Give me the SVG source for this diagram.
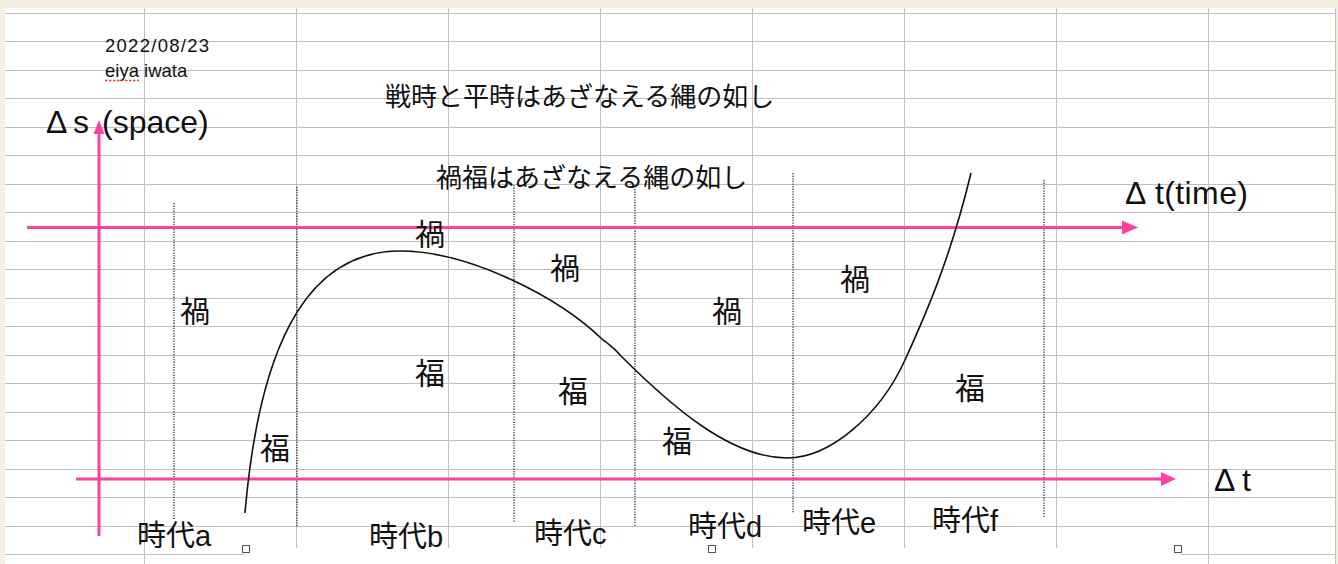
<svg xmlns="http://www.w3.org/2000/svg" width="1338" height="564" viewBox="0 0 1338 564">
<defs>
<style>
.grid{stroke:#c0c0c0;stroke-width:1;fill:none}
.axis{stroke:#ff40a0;stroke-width:3;fill:none}
.head{fill:#ff40a0}
.dot{stroke:#222;stroke-width:1.2;stroke-dasharray:1.3 1.3;fill:none}
.curve{stroke:#111;stroke-width:1.6;fill:none}
.t{font-family:"Liberation Sans","Noto Sans CJK JP",sans-serif;fill:#111}
.j{font-family:"Noto Sans CJK JP","Liberation Sans",sans-serif;fill:#111}
.k{font-size:30px;text-anchor:middle}
.era{font-size:29px}
.handle{fill:#fff;stroke:#555;stroke-width:1}
</style>
</defs>
<rect x="0" y="0" width="1338" height="564" fill="#f5efe1"/>
<rect x="5" y="8" width="1330" height="556" fill="#ffffff"/>
<g id="grid" class="grid">
<line x1="5" y1="13.5" x2="1335" y2="13.5"/>
<line x1="5" y1="41.5" x2="1335" y2="41.5"/>
<line x1="5" y1="70.5" x2="1335" y2="70.5"/>
<line x1="5" y1="98.5" x2="1335" y2="98.5"/>
<line x1="5" y1="127.5" x2="1335" y2="127.5"/>
<line x1="5" y1="155.5" x2="1335" y2="155.5"/>
<line x1="5" y1="184.5" x2="1335" y2="184.5"/>
<line x1="5" y1="212.5" x2="1335" y2="212.5"/>
<line x1="5" y1="241.5" x2="1335" y2="241.5"/>
<line x1="5" y1="269.5" x2="1335" y2="269.5"/>
<line x1="5" y1="298.5" x2="1335" y2="298.5"/>
<line x1="5" y1="326.5" x2="1335" y2="326.5"/>
<line x1="5" y1="355.5" x2="1335" y2="355.5"/>
<line x1="5" y1="383.5" x2="1335" y2="383.5"/>
<line x1="5" y1="412.5" x2="1335" y2="412.5"/>
<line x1="5" y1="440.5" x2="1335" y2="440.5"/>
<line x1="5" y1="469.5" x2="1335" y2="469.5"/>
<line x1="5" y1="497.5" x2="1335" y2="497.5"/>
<line x1="5" y1="526.5" x2="1335" y2="526.5"/>
<line x1="5" y1="554.5" x2="245" y2="554.5"/>
<line x1="1180" y1="554.5" x2="1335" y2="554.5"/>
<line x1="144.5" y1="8" x2="144.5" y2="564"/>
<line x1="296.5" y1="8" x2="296.5" y2="548"/>
<line x1="448.5" y1="8" x2="448.5" y2="548"/>
<line x1="600.5" y1="8" x2="600.5" y2="548"/>
<line x1="752.5" y1="8" x2="752.5" y2="548"/>
<line x1="904.5" y1="8" x2="904.5" y2="548"/>
<line x1="1056.5" y1="8" x2="1056.5" y2="548"/>
<line x1="1208.5" y1="8" x2="1208.5" y2="564"/>
<line x1="1335.5" y1="8" x2="1335.5" y2="564"/>
</g>
<g id="connectors">
<line class="dot" x1="174" y1="203" x2="174" y2="520"/>
<line class="dot" x1="297" y1="187" x2="297" y2="527"/>
<line class="dot" x1="514" y1="185" x2="514" y2="522"/>
<line class="dot" x1="635" y1="189" x2="635" y2="527"/>
<line class="dot" x1="793" y1="173" x2="793" y2="513"/>
<line class="dot" x1="1044" y1="180" x2="1044" y2="517"/>
<line class="axis" x1="99" y1="536" x2="99" y2="132"/>
<polygon class="head" points="99,120 93.5,134 104.5,134"/>
<line class="axis" x1="27" y1="227.5" x2="1124" y2="227.5"/>
<polygon class="head" points="1138,227.5 1122,220.5 1122,234.5"/>
<line class="axis" x1="76" y1="479" x2="1163" y2="479"/>
<polygon class="head" points="1176,479 1161,472 1161,486"/>
<path class="curve" d="M245,513 C258,360 300,251 400,251 C470,251 560,298 603,340 L606,342 C612,347 616,350 620,355 C670,405 730,458 787,458 C830,458 880,415 905,360 C925,316 950,260 971,173"/>
</g>
<g id="handles">
<rect class="handle" x="242.5" y="545.5" width="7" height="7"/>
<rect class="handle" x="708.5" y="545.5" width="7" height="7"/>
<rect class="handle" x="1174.5" y="545.5" width="7" height="7"/>
</g>
<g id="date"><text class="t" x="105" y="52" font-size="18.5" textLength="104">2022/08/23</text></g>
<g id="author"><text class="t" x="105" y="77" font-size="18.5">eiya iwata</text>
<line x1="105" y1="80.5" x2="139" y2="80.5" stroke="#e8403a" stroke-width="1.3" stroke-dasharray="2.5 1.5"/></g>
<g id="title1"><text class="j" x="385" y="106" font-size="26">戦時と平時はあざなえる縄の如し</text></g>
<g id="title2"><text class="j" x="436" y="187" font-size="26">禍福はあざなえる縄の如し</text></g>
<g id="label-space"><text class="t" font-size="32" y="133"><tspan x="46">Δ</tspan><tspan x="73">s </tspan><tspan x="102">(space)</tspan></text></g>
<g id="label-time"><text class="t" font-size="32" y="204"><tspan x="1125">Δ</tspan><tspan x="1155" textLength="93">t(time)</tspan></text></g>
<g id="label-dt"><text class="t" font-size="32" y="491"><tspan x="1214">Δ</tspan><tspan x="1242">t</tspan></text></g>
<g id="ka1"><text class="j k" x="195" y="322">禍</text></g>
<g id="ka2"><text class="j k" x="430" y="245">禍</text></g>
<g id="ka3"><text class="j k" x="565" y="279">禍</text></g>
<g id="ka4"><text class="j k" x="727" y="322">禍</text></g>
<g id="ka5"><text class="j k" x="855" y="290">禍</text></g>
<g id="fuku1"><text class="j k" x="275" y="459">福</text></g>
<g id="fuku2"><text class="j k" x="430" y="384">福</text></g>
<g id="fuku3"><text class="j k" x="573" y="402">福</text></g>
<g id="fuku4"><text class="j k" x="677" y="452">福</text></g>
<g id="fuku5"><text class="j k" x="970" y="399">福</text></g>
<g id="era-a"><text class="t era" x="137" y="546">時代a</text></g>
<g id="era-b"><text class="t era" x="369" y="547">時代b</text></g>
<g id="era-c"><text class="t era" x="534" y="544">時代c</text></g>
<g id="era-d"><text class="t era" x="688" y="537">時代d</text></g>
<g id="era-e"><text class="t era" x="802" y="533">時代e</text></g>
<g id="era-f"><text class="t era" x="932" y="531">時代f</text></g>
</svg>
